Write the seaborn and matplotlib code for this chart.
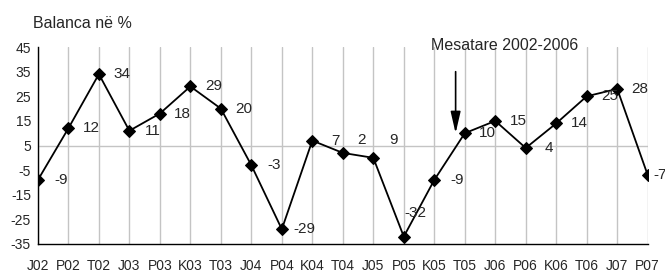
import pandas as pd
import seaborn as sns
import matplotlib.pyplot as plt

# Dati: periudhat dhe balanca ne %
periudhat = ['J02', 'P02', 'T02', 'J03', 'P03', 'K03', 'T03', 'J04', 'P04', 'K04', 'T04',
             'J05', 'P05', 'K05', 'T05', 'J06', 'P06', 'K06', 'T06', 'J07', 'P07']
balanca = [-9, 12, 34, 11, 18, 29, 20, -3, -29, 7, 2, 0, -32, -9, 10, 15, 4, 14, 25, 28, -7]
etiketat = ['-9', '12', '34', '11', '18', '29', '20', '-3', '-29', '7', '2',
            '9', '-32', '-9', '10', '15', '4', '14', '25', '28', '-7']
yticks = [45, 35, 25, 15, 5, -5, -15, -25, -35]

df = pd.DataFrame({'poz': range(len(periudhat)), 'balanca': balanca})

sns.set_style("white")
plt.rcParams['font.family'] = ['Liberation Sans', 'DejaVu Sans']

fig = plt.figure(figsize=(6.65, 2.72), dpi=100)
ax = fig.add_axes([0.057, 0.103, 0.917, 0.724])

# vijat vertikale te rrjetit
for x in df['poz']:
    ax.axvline(x, color='#c4c4c4', lw=1, zorder=0)
ax.axhline(5, color='#c4c4c4', lw=1, zorder=0)

sns.lineplot(data=df, x='poz', y='balanca', color='black', lw=1.3,
             marker='D', markersize=6, markeredgecolor='black', ax=ax, zorder=3)

# etiketat e te dhenave (zhvendosje ne piksel sipas indeksit)
zhvendosje = {10: (19, 13), 11: (20, 18), 12: (12, 24), 20: (12, 0)}
for i, (v, t) in enumerate(zip(balanca, etiketat)):
    dx, dy = zhvendosje.get(i, (23, 0))
    ax.annotate(t, (i, v), xytext=(dx, dy), textcoords='offset pixels',
                ha='center', va='center', fontsize=11, zorder=4)

ax.set_xlim(0, len(periudhat) - 1)
ax.set_ylim(-35, 45)
ax.set_xticks(range(len(periudhat)))
ax.set_xticklabels(periudhat, fontsize=10)
ax.set_yticks(yticks)
ax.set_yticklabels([str(y) for y in yticks], fontsize=10)
ax.tick_params(axis='both', direction='inout', length=6, width=1, color='black')
ax.tick_params(axis='x', pad=8)
ax.tick_params(axis='y', pad=2)
ax.set_xlabel('')
ax.set_ylabel('')

for s in ['top', 'right']:
    ax.spines[s].set_visible(False)
for s in ['left', 'bottom']:
    ax.spines[s].set_color('black')
    ax.spines[s].set_linewidth(1)

# shigjeta per mesataren
ax.annotate('', xy=(13.7, 10), xytext=(13.7, 35),
            arrowprops=dict(arrowstyle='-|>,head_width=0.15,head_length=0.65',
                            mutation_scale=20, color='black', lw=1.2, shrinkA=0, shrinkB=0))
ax.text(12.9, 45.6, 'Mesatare 2002-2006', fontsize=11.5, ha='left', va='center', zorder=5)

fig.text(0.05, 0.915, 'Balanca në %', fontsize=11.5, ha='left', va='center')

plt.savefig('out.png', dpi=100)
